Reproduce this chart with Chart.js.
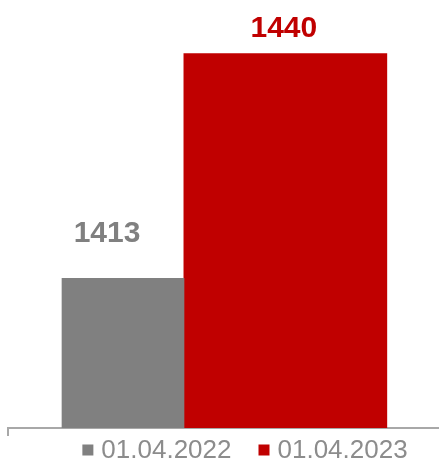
<!DOCTYPE html>
<html>
<head>
<meta charset="utf-8">
<script src="https://cdn.jsdelivr.net/npm/chart.js@4.4.1/dist/chart.umd.min.js"></script>
<style>
  html, body { margin: 0; padding: 0; background: #ffffff; overflow: hidden; }
  #wrap { position: relative; width: 439px; height: 461px; }
</style>
</head>
<body>
<div id="wrap"><canvas id="c" width="439" height="461"></canvas></div>
<script>
// ---- data ----
const categories = ['01.04.2022', '01.04.2023'];
const values = [1413, 1440];

// ---- style ----
const barColors = ['#808080', '#C00000'];
const barWidths = [122, 203];
const labelOffsets = [{ dx: -16, dy: -36 }, { dx: -1.5, dy: -17 }];
const FONT = '"Liberation Sans", Arial, sans-serif';
const AXIS_COLOR = '#a8a8a8';

const datasets = categories.map((c, i) => ({
  label: c,
  data: [{ x: i, y: values[i] }],
  backgroundColor: barColors[i],
  borderWidth: 0,
  barThickness: barWidths[i],
  grouped: false
}));

const valueLabels = {
  id: 'valueLabels',
  afterDatasetsDraw(chart) {
    const ctx = chart.ctx;
    ctx.save();
    ctx.font = 'bold 30px ' + FONT;
    ctx.textAlign = 'center';
    ctx.textBaseline = 'alphabetic';
    chart.data.datasets.forEach((ds, i) => {
      const meta = chart.getDatasetMeta(i);
      meta.data.forEach((el, j) => {
        const v = ds.data[j].y;
        ctx.fillStyle = barColors[i];
        ctx.fillText(String(v), el.x + labelOffsets[i].dx, el.y + labelOffsets[i].dy);
      });
    });
    ctx.restore();
  }
};

const bottomLegend = {
  id: 'bottomLegend',
  afterDraw(chart) {
    const ctx = chart.ctx;
    ctx.save();
    ctx.font = '26px ' + FONT;
    ctx.textBaseline = 'middle';
    ctx.textAlign = 'left';
    const box = 11, gap = 8, spacing = 27;
    const items = chart.data.datasets.map((ds, i) => ({
      text: ds.label, color: ds.backgroundColor, w: ctx.measureText(ds.label).width
    }));
    let total = 0;
    items.forEach((it, i) => { total += box + gap + it.w + (i ? spacing : 0); });
    const cx = 245;
    let x = cx - total / 2;
    const cy = 450;
    items.forEach((it, i) => {
      if (i) x += spacing;
      ctx.fillStyle = it.color;
      ctx.fillRect(x, cy - box / 2, box, box);
      x += box + gap;
      ctx.fillStyle = '#8c8c8c';
      ctx.fillText(it.text, x, cy + 1);
      x += it.w;
    });
    ctx.restore();
  }
};

new Chart(document.getElementById('c'), {
  type: 'bar',
  data: { datasets },
  plugins: [valueLabels, bottomLegend],
  options: {
    responsive: false,
    animation: false,
    devicePixelRatio: 1,
    layout: { padding: { left: 8, right: 0, top: 12, bottom: 25 } },
    plugins: { legend: { display: false }, tooltip: { enabled: false } },
    scales: {
      x: {
        type: 'linear',
        offset: false,
        bounds: 'data',
        min: -0.7083,
        max: 1.9464,
        afterBuildTicks(scale) { scale.ticks = [{ value: scale.min }]; },
        ticks: { display: false },
        grid: {
          offset: false,
          drawOnChartArea: false,
          drawTicks: true,
          tickLength: 8,
          lineWidth: (c) => (c.index === 0 ? 2 : 0),
          tickWidth: (c) => (c.index === 0 ? 2 : 0),
          color: AXIS_COLOR,
          tickColor: (c) => (c.index === 0 ? AXIS_COLOR : 'rgba(0,0,0,0)')
        },
        border: { display: true, color: AXIS_COLOR, width: 2 }
      },
      y: {
        display: false,
        min: 1395,
        max: 1445
      }
    }
  }
});
</script>
</body>
</html>
